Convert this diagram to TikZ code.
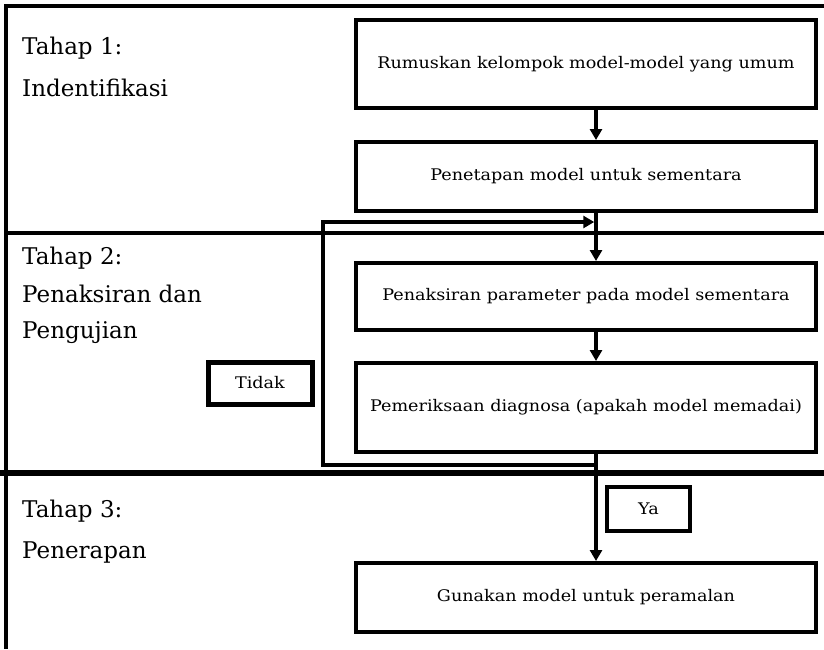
\documentclass[tikz,border=0pt]{standalone}
\usepackage{fontspec}
\setmainfont{DejaVu Serif}
\newfontfamily\boxfont[FakeStretch=1.1]{DejaVu Serif}
\usetikzlibrary{arrows.meta}
\tikzset{
  stagebox/.style={draw, line width=4pt, inner sep=0pt, font=\boxfont\fontsize{16}{19}\selectfont},
  tagbox/.style={draw, inner sep=0pt, font=\boxfont\fontsize{16}{19}\selectfont},
  stagelabel/.style={anchor=base west, inner sep=0pt, font=\fontsize{23}{28}\selectfont},
  conn/.style={line width=3.5pt, -{Triangle[width=12pt,length=11pt]}},
  loopline/.style={line width=3.5pt},
  frameline/.style={line width=4pt},
}
\begin{document}
\begin{tikzpicture}[x=1pt,y=-1pt]
\useasboundingbox (0,0) rectangle (824,649);

% outer frame and stage dividers
\draw[frameline] (824,5.5) -- (5.5,5.5) -- (5.5,649);
\draw[frameline] (4,233) -- (824,233);
\draw[line width=6pt] (0,473) -- (824,473);

% stage labels
\node[stagelabel] (t1a) at (22,54) {Tahap 1:};
\node[stagelabel] (t1b) at (22,96) {Indentifikasi};
\node[stagelabel] (t2a) at (22,264) {Tahap 2:};
\node[stagelabel] (t2b) at (22,302) {Penaksiran dan};
\node[stagelabel] (t2c) at (22,338) {Pengujian};
\node[stagelabel] (t3a) at (22,517) {Tahap 3:};
\node[stagelabel] (t3b) at (22,558) {Penerapan};

% process boxes
\node[stagebox, minimum width=460pt, minimum height=88pt] (b1) at (586,64) {Rumuskan kelompok model-model yang umum};
\node[stagebox, minimum width=460pt, minimum height=69pt] (b2) at (586,176.5) {Penetapan model untuk sementara};
\node[stagebox, minimum width=460pt, minimum height=67pt] (b3) at (586,296.5) {Penaksiran parameter pada model sementara};
\node[stagebox, minimum width=460pt, minimum height=89pt] (b4) at (586,407.5) {Pemeriksaan diagnosa (apakah model memadai)};
\node[stagebox, minimum width=460pt, minimum height=69pt] (b5) at (586,597.5) {Gunakan model untuk peramalan};

% decision tags
\node[tagbox, line width=5pt, minimum width=104pt, minimum height=42pt] (tidak) at (260,383) {Tidak};
\node[tagbox, line width=3.5pt, minimum width=83pt, minimum height=44pt] (ya) at (648.5,509) {Ya};

% flow
\coordinate (lb) at (323,465);
\coordinate (jn) at (596,222);
\draw[conn] (b1.south -| jn) -- (b2.north -| jn);
\draw[conn] (b2.south -| jn) -- (b3.north -| jn);
\draw[conn] (b3.south -| jn) -- (b4.north -| jn);
\draw[conn] (b4.south -| jn) -- (b5.north -| jn);
\draw[loopline, -{Triangle[width=12pt,length=11pt]}, shorten >=1.75pt] (b4.south -| jn) |- (lb) |- (jn);
\end{tikzpicture}
\end{document}
